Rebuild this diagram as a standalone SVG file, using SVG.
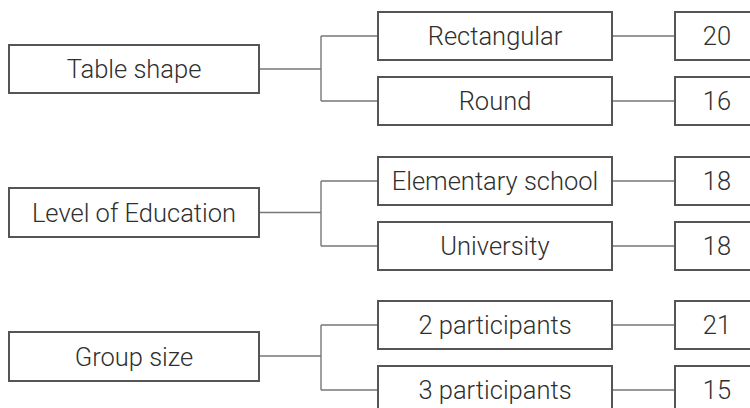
<svg xmlns="http://www.w3.org/2000/svg" width="750" height="408" viewBox="0 0 750 408">
<style>
.box{fill:#fff;stroke:#555;stroke-width:2}
.lbl{font-family:Roboto,"Liberation Sans",sans-serif;font-weight:300;font-size:25.5px;fill:#2f2f2f;text-anchor:middle}
.con{fill:none;stroke:#777;stroke-width:1.4}
</style>
<rect width="750" height="408" fill="#fff"/>
<g id="connectors">
<path class="con" d="M259 69H321M321 36V101M321 36H378M321 101H378M612 36H675M612 101H675"/>
<path class="con" d="M259 212.5H321M321 181V246M321 181H378M321 246H378M612 181H675M612 246H675"/>
<path class="con" d="M259 356H321M321 325V390M321 325H378M321 390H378M612 325H675M612 390H675"/>
</g>
<g id="table-shape"><rect class="box" x="9" y="45" width="250" height="48"/><text class="lbl" x="134" y="78">Table shape</text></g>
<g id="rectangular"><rect class="box" x="378" y="12" width="234" height="48"/><text class="lbl" x="495" y="45">Rectangular</text></g>
<g id="round"><rect class="box" x="378" y="77" width="234" height="48"/><text class="lbl" x="495" y="110">Round</text></g>
<g id="n20"><rect class="box" x="675" y="12" width="84" height="48"/><text class="lbl" x="717" y="45">20</text></g>
<g id="n16"><rect class="box" x="675" y="77" width="84" height="48"/><text class="lbl" x="717" y="110">16</text></g>
<g id="education"><rect class="box" x="9" y="188" width="250" height="49"/><text class="lbl" x="134" y="221.5">Level of Education</text></g>
<g id="elementary"><rect class="box" x="378" y="157" width="234" height="48"/><text class="lbl" x="495" y="190">Elementary school</text></g>
<g id="university"><rect class="box" x="378" y="222" width="234" height="48"/><text class="lbl" x="495" y="255">University</text></g>
<g id="n18a"><rect class="box" x="675" y="157" width="84" height="48"/><text class="lbl" x="717" y="190">18</text></g>
<g id="n18b"><rect class="box" x="675" y="222" width="84" height="48"/><text class="lbl" x="717" y="255">18</text></g>
<g id="group-size"><rect class="box" x="9" y="332" width="250" height="49"/><text class="lbl" x="134" y="365.5">Group size</text></g>
<g id="p2"><rect class="box" x="378" y="301" width="234" height="48"/><text class="lbl" x="495" y="334">2 participants</text></g>
<g id="p3"><rect class="box" x="378" y="366" width="234" height="48"/><text class="lbl" x="495" y="399">3 participants</text></g>
<g id="n21"><rect class="box" x="675" y="301" width="84" height="48"/><text class="lbl" x="717" y="334">21</text></g>
<g id="n15"><rect class="box" x="675" y="366" width="84" height="48"/><text class="lbl" x="717" y="399">15</text></g>
</svg>
